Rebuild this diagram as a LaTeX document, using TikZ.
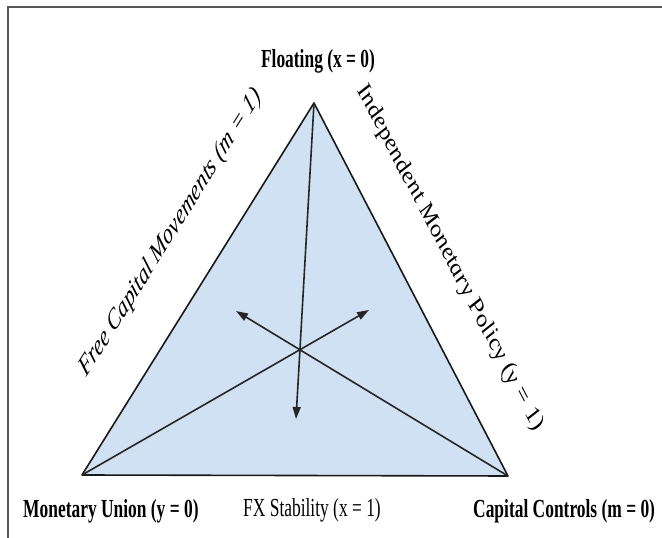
\documentclass[tikz,border=0pt]{standalone}
\usepackage{graphicx}
\usepackage{fontspec}
\setmainfont{Liberation Serif}
\usetikzlibrary{arrows.meta}
\definecolor{trifill}{HTML}{CFE1F2}
\definecolor{framec}{HTML}{555555}
\newcommand{\narrow}[1]{\scalebox{0.67}[1]{#1}}
\newcommand{\slanted}[2]{\scalebox{0.67}[1]{\rotatebox{#1}{#2}}}
\tikzset{
  tri/.style={draw=black!90, fill=trifill, line width=1.6pt, line join=round},
  ray/.style={draw=black!85, line width=1.6pt},
  arr/.style={ray, -{Triangle[length=12pt, width=8pt]}},
  corner/.style={font=\fontsize{26}{30}\selectfont\bfseries, inner sep=0pt},
  side/.style={font=\fontsize{29}{33}\selectfont\itshape, inner sep=0pt},
  lbl/.style={font=\fontsize{26}{30}\selectfont, inner sep=0pt},
  frame/.style={draw=framec, line width=1.2pt},
}

\begin{document}
\begin{tikzpicture}[x=1pt, y=1pt]
\useasboundingbox (0,0) rectangle (662,538);
\draw[frame] (8,0) -- (8,531) -- (662,531);

% the three regimes
\coordinate (float) at (314,435);
\coordinate (union) at (82,63);
\coordinate (controls) at (508,62);
\draw[tri] (float) -- (union) -- (controls) -- cycle;

% pulls from each corner
\coordinate (downtip) at (296,119);
\coordinate (righttip) at (369,228);
\coordinate (lefttip) at (236,227);
\draw[arr] (float) -- (downtip);
\draw[arr] (union) -- (righttip);
\draw[arr] (controls) -- (lefttip);

% corner labels
\node[corner, anchor=base] (floatlbl) at (318,470) {\narrow{Floating (x = 0)}};
\node[corner, anchor=base west] (unionlbl) at (23,20) {\narrow{Monetary Union (y = 0)}};
\node[lbl, anchor=base west] (fxlbl) at (243,21) {\narrow{FX Stability (x = 1)}};
\node[corner, anchor=base west] (controlslbl) at (473,20) {\narrow{Capital Controls (m = 0)}};

% side labels
\node[side] (freelbl) at (171,305) {\slanted{47}{Free Capital Movements (m = 1)}};
\node[side] (indeplbl) at (450,280) {\slanted{-52.2}{Independent Monetary Policy (y = 1)}};
\end{tikzpicture}
\end{document}
